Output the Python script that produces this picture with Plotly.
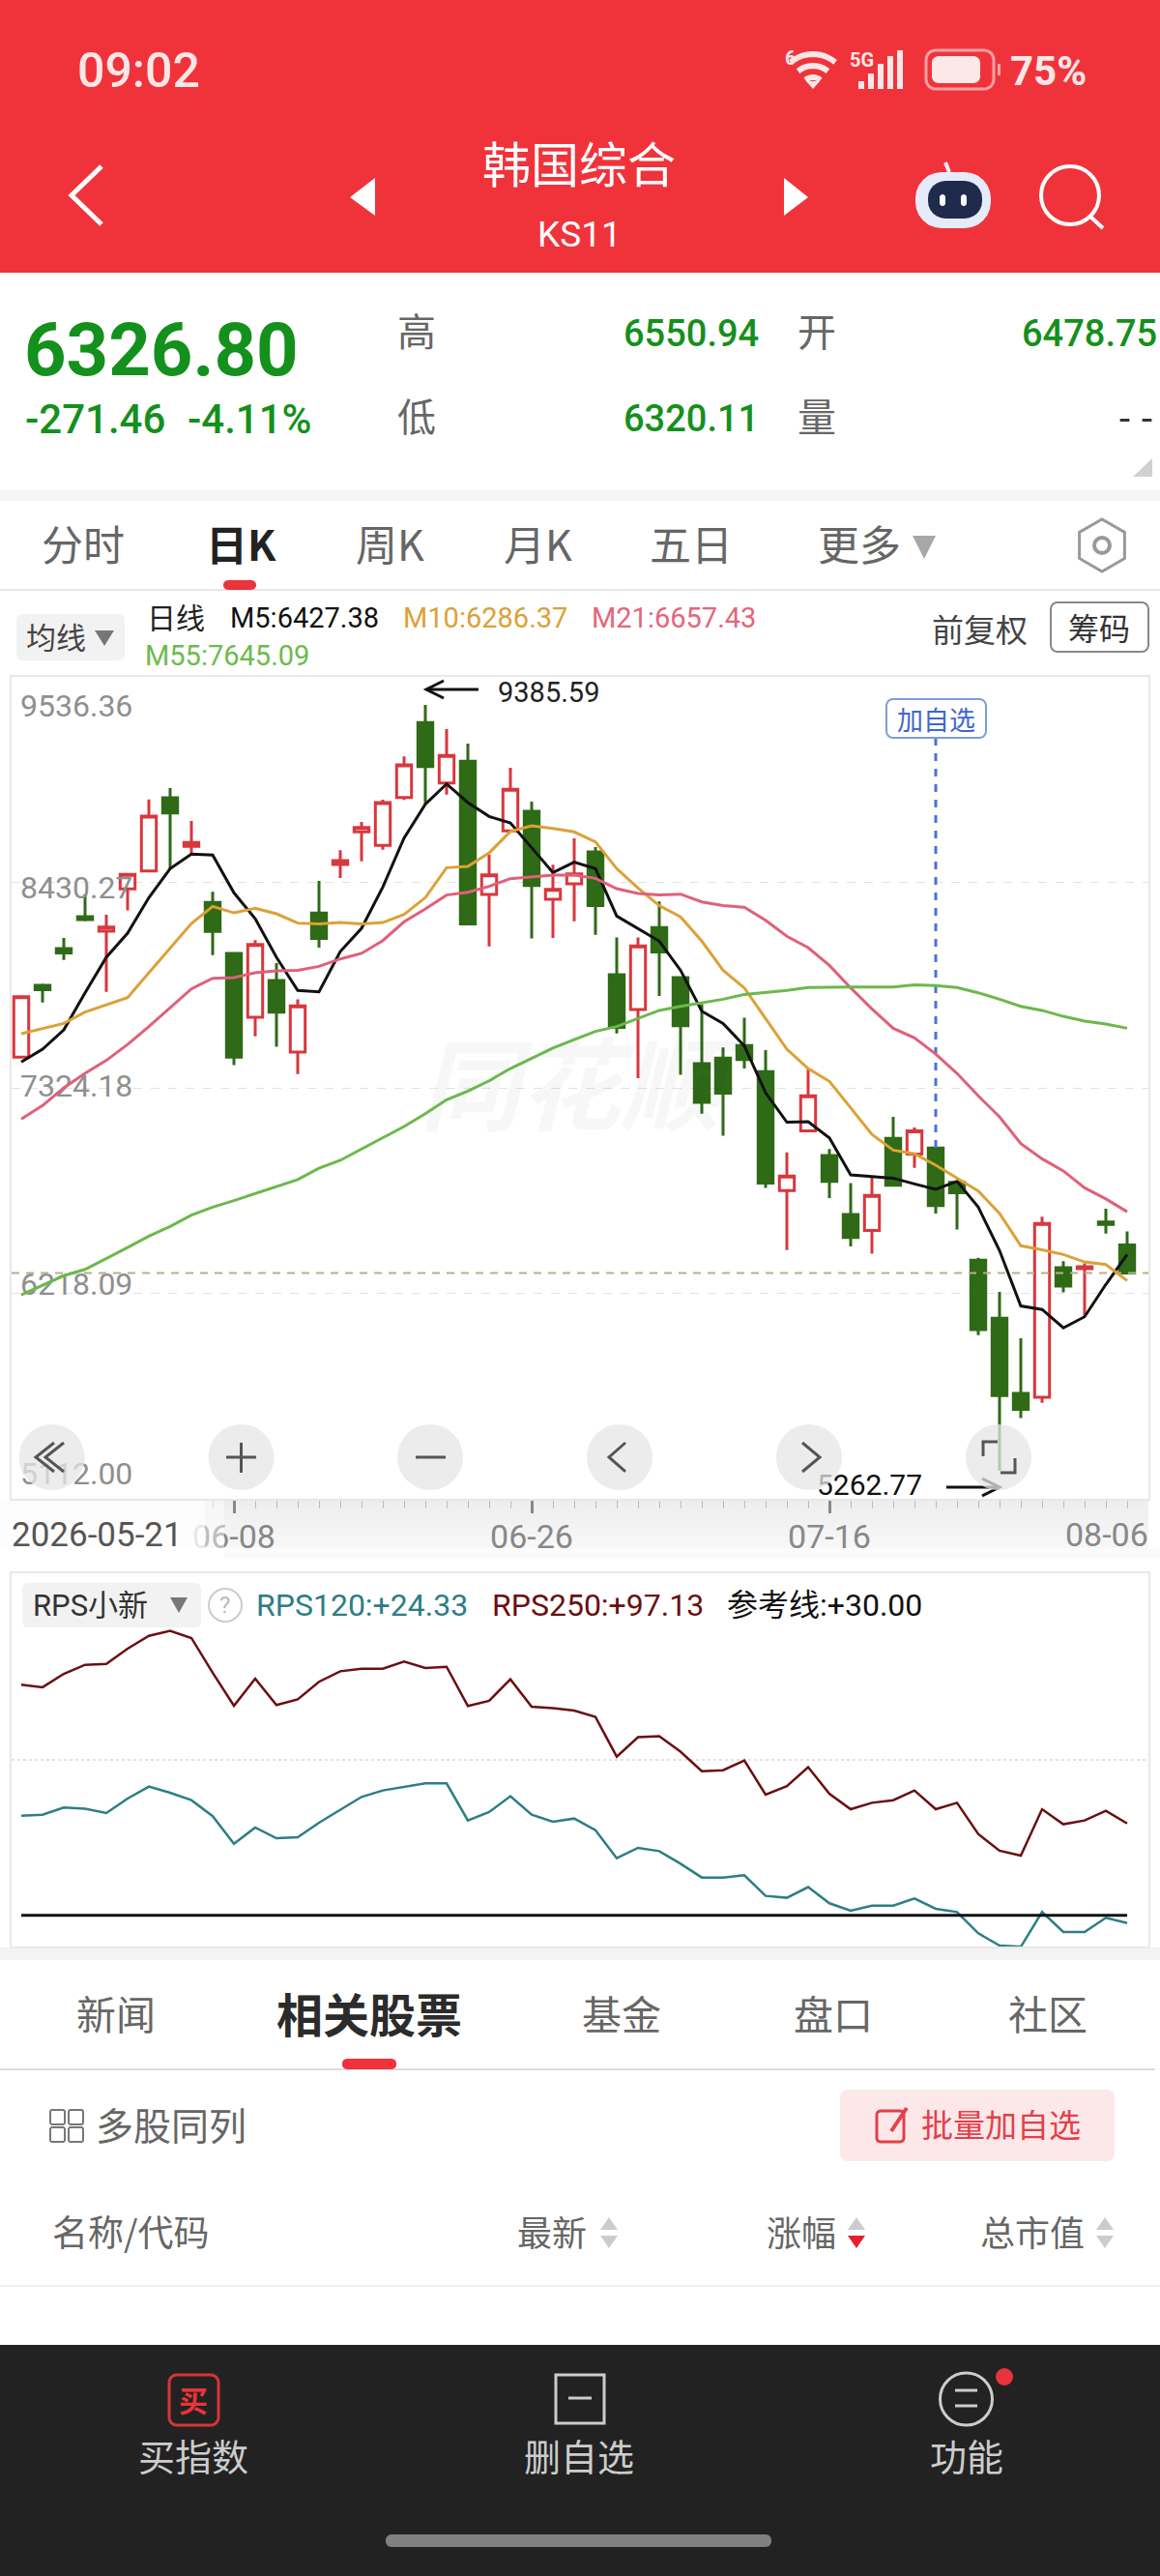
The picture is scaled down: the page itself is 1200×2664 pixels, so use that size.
import math
import plotly.graph_objects as go

W = 1200
H = 2664
LATIN = "Roboto, Noto Sans CJK SC"
CJK = "Noto Sans CJK SC, Roboto"

# =============================================================================
# Data
# =============================================================================
dates = ["05-21", "05-22", "05-26", "05-27", "05-28", "05-29", "06-01", "06-02", "06-04", "06-05",
         "06-08", "06-09", "06-10", "06-11", "06-12", "06-15", "06-16", "06-17", "06-18", "06-19",
         "06-22", "06-23", "06-24", "06-25", "06-26", "06-29", "06-30", "07-01", "07-02", "07-03",
         "07-06", "07-07", "07-08", "07-09", "07-10", "07-13", "07-14", "07-15", "07-16", "07-20",
         "07-21", "07-22", "07-23", "07-24", "07-27", "07-28", "07-29", "07-30", "07-31", "08-03",
         "08-04", "08-05", "08-06"]
opens = [7489, 7876, 8074, 8245, 8167, 8395, 8492, 8886, 8624, 8322, 8048, 7704, 7902, 7517, 8265, 8527, 8702, 8629,
         8887, 9290, 8965, 9082, 8365, 8707, 8813, 8339, 8422, 8594, 7933, 7746, 8187, 7918, 7454, 7484, 7552, 7411,
         6771, 7092, 6960, 6642, 6556, 7052, 6967, 7000, 6816, 6396, 6084, 5679, 5659, 6356, 6351, 6602, 6478.75]
highs = [7815, 7885, 8131, 8365, 8256, 8473, 8877, 8938, 8761, 8379, 8048, 8119, 7996, 7801, 8438, 8603, 8756, 8875,
         9108, 9385.59, 9255, 9177, 8579, 9047, 8865, 8525, 8667, 8620, 8134, 8134, 8327, 7918, 7775, 7541, 7702, 7527,
         6977, 7423, 6995, 6812, 6844, 7168, 7111, 7000, 6816, 6410, 6226, 5976, 6630, 6391, 6379, 6674, 6550.94]
lows = [7489, 7784, 8013, 8221, 7841, 8279, 8492, 8504, 8582, 8039, 7446, 7602, 7545, 7399, 8079, 8454, 8544, 8606,
        8874, 8851, 8903, 8206, 8086, 8707, 8128, 8131, 8221, 8148, 7617, 7376, 7819, 7394, 7185, 7067, 7428, 6786,
        6451, 7092, 6731, 6471, 6431, 6792, 6894, 6648, 6561, 5993, 5262.77, 5546, 5629, 6223, 6092, 6540, 6320.11]
closes = [7815, 7853, 8050, 8230, 8190, 8473, 8787, 8804, 8645, 8166, 7489, 8096, 7732, 7765, 8128, 8547, 8726, 8860,
          9063, 9054, 9113, 8206, 8471, 8931, 8414, 8393, 8476, 8305, 7650, 8088, 8055, 7659, 7246, 7295, 7477, 6812,
          6849, 7281, 6821, 6519, 6745, 6800, 7092, 6691, 6759, 6023, 5667, 5593, 6594, 6257, 6361, 6589, 6326.80]

ma5 = [7463, 7532, 7636, 7836, 8027, 8157, 8348, 8504, 8582, 8577, 8374, 8235, 8027, 7848, 7841, 8058, 8183, 8405,
       8669, 8851, 8960, 8860, 8785, 8750, 8617, 8483, 8539, 8504, 8249, 8183, 8114, 7957, 7737, 7671, 7550, 7298,
       7139, 7142, 7055, 6856, 6847, 6838, 6807, 6778, 6821, 6682, 6448, 6150, 6131, 6032, 6092, 6266, 6427.38]
ma10 = [7616, 7645, 7671, 7732, 7770, 7810, 7944, 8076, 8209, 8301, 8266, 8291, 8261, 8211, 8207, 8214, 8206, 8214,
        8258, 8348, 8509, 8516, 8589, 8704, 8735, 8721, 8702, 8648, 8504, 8400, 8305, 8244, 8114, 7957, 7862, 7697,
        7532, 7428, 7359, 7217, 7073, 6989, 6969, 6908, 6838, 6769, 6648, 6474, 6452, 6427, 6387, 6373, 6286.37]
ma21 = [7156, 7229, 7324, 7402, 7472, 7558, 7654, 7758, 7857, 7914, 7918, 7944, 7954, 7957, 7978, 8018, 8048, 8117,
        8218, 8287, 8362, 8377, 8409, 8450, 8461, 8469, 8469, 8452, 8396, 8370, 8362, 8367, 8325, 8305, 8296, 8226,
        8140, 8079, 7983, 7862, 7749, 7645, 7593, 7506, 7402, 7281, 7168, 7024, 6942, 6877, 6786, 6726, 6657.43]
ma55 = [6210, 6261, 6313, 6347, 6405, 6465, 6526, 6578, 6639, 6682, 6717, 6755, 6792, 6830, 6891, 6934, 6995, 7055,
        7116, 7185, 7260, 7307, 7362, 7428, 7484, 7538, 7584, 7628, 7654, 7697, 7741, 7763, 7781, 7801, 7827, 7836,
        7848, 7864, 7867, 7867, 7867, 7867, 7878, 7874, 7864, 7836, 7801, 7763, 7741, 7709, 7683, 7668, 7645.09]

rps120 = [102.8, 103.5, 108.7, 107.8, 104.7, 115.3, 124.0, 119.5, 114.1, 102.4, 82.3, 94.1, 86.3, 87.0, 97.6, 107.1,
          116.5, 121.2, 123.6, 126.4, 126.4, 99.3, 105.4, 117.0, 103.5, 98.4, 100.7, 92.2, 71.7, 79.3, 76.9, 67.7,
          57.6, 57.6, 59.3, 44.2, 42.8, 50.6, 38.8, 33.4, 37.1, 37.1, 42.3, 34.8, 32.4, 16.9, 7.9, 7.0, 32.4, 17.8,
          17.8, 28.2, 24.33]
rps250 = [198.4, 196.6, 206.4, 213.0, 213.7, 224.8, 234.2, 237.8, 232.6, 207.2, 183.1, 202.9, 183.6, 187.8, 200.6,
          208.3, 210.2, 210.2, 215.4, 210.7, 211.6, 182.9, 186.7, 202.4, 182.4, 181.3, 179.6, 174.9, 145.9, 160.1,
          160.8, 149.5, 135.3, 136.0, 143.1, 118.1, 124.3, 138.2, 118.8, 107.5, 112.2, 114.1, 121.2, 107.5, 112.2,
          89.4, 77.2, 73.6, 107.5, 96.5, 99.3, 106.4, 97.13]
ref_line = [30.0] * 53

y_ticks = [9536.36, 8430.27, 7324.18, 6218.09, 5112.00]
y_tick_text = ["9536.36", "8430.27", "7324.18", "6218.09", "5112.00"]
x_major = [10, 24, 38, 52]
x_minor = list(range(9, 53))

idx = list(range(len(dates)))

# plot rectangles, in page pixels
MAIN_L, MAIN_R, MAIN_T, MAIN_B = 12, 1188, 700, 1550
SUB_T, SUB_B = 1627, 2013
Y_MIN, Y_MAX = 5112.00, 9536.36
X_MIN, X_MAX = -0.4545, 53.0

RED = "#d8373e"
GREEN = "#2f6a17"
GREEN_TXT = "#14901c"


def val_at(y_px):
    # value of the main price axis at a page height, for the labels drawn as text
    return Y_MAX - (y_px - MAIN_T) * (Y_MAX - Y_MIN) / (MAIN_B - MAIN_T)


def idx_at(x_px):
    return (x_px - 22) / 22


# =============================================================================
# Helpers for the app chrome around the chart
# =============================================================================
shapes = []
annots = []


def fx(x):
    return x / W


def fy(y):
    return 1 - y / H


def poly(pts, close=False, fill=None, color=None, width=0, layer="above", opacity=1):
    d = "M " + " L ".join(f"{fx(x):.5f},{fy(y):.5f}" for x, y in pts)
    if close:
        d += " Z"
    shapes.append(dict(type="path", xref="paper", yref="paper", path=d,
                       fillcolor=fill if fill else "rgba(0,0,0,0)",
                       line=dict(color=color if color else "rgba(0,0,0,0)", width=width),
                       layer=layer, opacity=opacity))


def rect(x0, y0, x1, y1, fill, layer="below", opacity=1):
    shapes.append(dict(type="rect", xref="paper", yref="paper", x0=fx(x0), x1=fx(x1), y0=fy(y1), y1=fy(y0),
                       fillcolor=fill, line=dict(width=0), layer=layer, opacity=opacity))


def rrect(x0, y0, x1, y1, r, fill=None, color=None, width=0, layer="above"):
    pts = []
    corners = [(x1 - r, y0 + r, -90), (x1 - r, y1 - r, 0), (x0 + r, y1 - r, 90), (x0 + r, y0 + r, 180)]
    for cx, cy, start in corners:
        for k in range(7):
            a = math.radians(start + k * 15)
            pts.append((cx + r * math.cos(a), cy + r * math.sin(a)))
    poly(pts, close=True, fill=fill, color=color, width=width, layer=layer)


def circle(cx, cy, r, fill=None, color=None, width=0, layer="above"):
    shapes.append(dict(type="circle", xref="paper", yref="paper", x0=fx(cx - r), x1=fx(cx + r),
                       y0=fy(cy + r), y1=fy(cy - r), fillcolor=fill if fill else "rgba(0,0,0,0)",
                       line=dict(color=color if color else "rgba(0,0,0,0)", width=width), layer=layer))


def arc(cx, cy, r, a0, a1, color, width):
    pts = []
    for k in range(13):
        a = math.radians(a0 + (a1 - a0) * k / 12)
        pts.append((cx + r * math.cos(a), cy + r * math.sin(a)))
    poly(pts, color=color, width=width)


def text(x, y, s, size, color, anchor="left", font=LATIN, bold=False, weight=None):
    # CJK glyphs sit a little low in their line box
    if font == CJK:
        y -= 0.07 * size
    fnt = dict(family=font, size=size, color=color)
    if weight:
        fnt["weight"] = weight
    annots.append(dict(xref="paper", yref="paper", x=fx(x), y=fy(y), text=f"<b>{s}</b>" if bold else s,
                       showarrow=False, xanchor=anchor, yanchor="middle", borderpad=0, borderwidth=0, font=fnt))


# =============================================================================
# Chrome: header, quote block, tabs
# =============================================================================
rect(0, 0, W, 282, "#f0333b")
text(80, 73, "09:02", 50, "#fbe6e6", font=LATIN, weight=500)
text(599, 171, "韩国综合", 50, "white", "center", CJK)
text(599, 242, "KS11", 37, "white", "center")
text(1045, 73, "75%", 42, "#fbe6e6", font=LATIN, bold=True)

# status icons
text(812, 60, "6", 20, "#fbe6e6", bold=True)
for r_, w_ in [(36, 6), (24, 6), (12, 6)]:
    arc(841, 92, r_, -130, -50, "#fbe6e6", w_)
poly([(834, 84), (848, 84), (841, 92)], close=True, fill="#fbe6e6")
text(879, 62, "5G", 20, "#fbe6e6", bold=True)
for x_, top in [(888, 84), (898, 76), (908, 66), (918, 58), (928, 52)]:
    rect(x_, top, x_ + 6, 92, "#fbe6e6", "above")
rrect(958, 52, 1028, 92, 10, color="#f9a0a3", width=3)
rrect(964, 58, 1014, 86, 7, fill="#fde8e8")
rect(1032, 66, 1035, 78, "#f9a0a3", "above")

poly([(105, 172), (74, 202), (105, 232)], color="white", width=5)
poly([(388, 184), (362, 204), (388, 223)], close=True, fill="white")
poly([(811, 184), (836, 204), (811, 223)], close=True, fill="white")
rrect(947, 178, 1025, 236, 27, fill="#e6ebfa")
rrect(960, 187, 1016, 226, 18, fill="#1f2a4d")
rrect(972, 201, 978, 213, 3, fill="white")
rrect(994, 201, 1000, 213, 3, fill="white")
poly([(978, 168), (982, 178)], color="#e6ebfa", width=4)
circle(1107, 202, 30, color="white", width=4)
poly([(1128, 224), (1141, 236)], color="white", width=4)

text(25, 362, "6326.80", 76, GREEN_TXT, bold=True)
text(26, 434, "-271.46", 42, GREEN_TXT, weight=500)
text(194, 434, "-4.11%", 42, GREEN_TXT, weight=500)
text(431, 344, "高", 40, "#666666", "center", CJK)
text(431, 432, "低", 40, "#666666", "center", CJK)
text(645, 345, "6550.94", 38, GREEN_TXT, weight=500)
text(645, 433, "6320.11", 38, GREEN_TXT, weight=500)
text(845, 344, "开", 40, "#666666", "center", CJK)
text(845, 432, "量", 40, "#666666", "center", CJK)
text(1197, 345, "6478.75", 38, GREEN_TXT, "right", weight=500)
text(1198, 432, "--", 38, "#333333", "right", font="DejaVu Sans Mono")
poly([(1192, 474), (1192, 493), (1172, 493)], close=True, fill="#d0d0d0")
rect(0, 507, W, 518, "#f5f5f5")

for tab_x, tab_s in [(86, "分时"), (403, "周K"), (556, "月K"), (715, "五日"), (889, "更多")]:
    text(tab_x, 564, tab_s, 43, "#666666", "center", CJK)
text(249, 564, "日K", 43, "#222222", "center", CJK, bold=True)
poly([(944, 554), (968, 554), (956, 578)], close=True, fill="#a8a8a8")
hex_pts = [(1140 + 27 * math.cos(math.radians(a)), 564 + 27 * math.sin(math.radians(a))) for a in range(30, 390, 60)]
poly(hex_pts, close=True, color="#999999", width=3)
circle(1140, 564, 8, color="#999999", width=4)
rect(0, 609, W, 611, "#e8e8e8")
rrect(231, 600, 265, 610, 5, fill="#e8343b")

# chart legend row
rrect(17, 635, 129, 683, 6, fill="#f2f2f2")
text(58, 660, "均线", 31, "#444444", "center", CJK)
poly([(98, 652), (118, 652), (108, 668)], close=True, fill="#777777")
text(152, 639, "日线", 30, "#222222", font=CJK)
text(238, 639, "M5:6427.38", 29, "#111111")
text(417, 639, "M10:6286.37", 29, "#dca136")
text(612, 639, "M21:6657.43", 29, "#e6657b")
text(150, 678, "M55:7645.09", 29, "#6cbb4d")
text(1013, 652, "前复权", 33, "#444444", "center", CJK)
rrect(1087, 623, 1188, 674, 7, color="#888888", width=2)
text(1137, 650, "筹码", 32, "#333333", "center", CJK)

# band under the main x axis, fading out to the left under the first date
for k in range(10):
    g = 238 + k
    rect(192, 1551 + k * 5, MAIN_R, 1556 + k * 5, f"rgb({g},{g},{g})")
    g2 = g + (255 - g) * 0.8
    rect(0, 1551 + k * 5, 192, 1556 + k * 5, f"rgb({g2:.0f},{g2:.0f},{g2:.0f})")
rect(232, 1601, W, 1612, "#fbfbfb")
rect(192, 1552, 212, 1601, "white", "above", 0.8)
rect(212, 1552, 232, 1601, "white", "above", 0.45)
text(12, 1587, "2026-05-21", 35, "#555555")
text(1188, 1587, "08-06", 34, "#888888", "right")

# signal label on the chart
rrect(917, 723, 1020, 763, 7, fill="white", color="#7f9bdc", width=2)
text(968, 745, "加自选", 27, "#3f68c8", "center", CJK)

# high / low pointers
poly([(495, 713), (441, 713)], color="#111111", width=3)
poly([(459, 704), (441, 713), (459, 722)], color="#111111", width=3)
poly([(979, 1538), (1034, 1538)], color="#111111", width=3)
poly([(1016, 1529), (1034, 1538), (1016, 1547)], color="#111111", width=3)

# round buttons over the chart
BTN = "rgba(230,230,230,0.75)"
for bx in [53.6, 249.5, 445, 641, 837, 1033]:
    circle(bx, 1507, 34, fill=BTN)
ICON = "#555555"
poly([(66, 1492), (47, 1507), (66, 1522)], color=ICON, width=3)
poly([(56, 1492), (37, 1507), (56, 1522)], color=ICON, width=3)
poly([(234, 1507), (265, 1507)], color=ICON, width=3)
poly([(249.5, 1492), (249.5, 1523)], color=ICON, width=3)
poly([(430, 1507), (461, 1507)], color=ICON, width=3)
poly([(647, 1492), (630, 1507), (647, 1522)], color=ICON, width=3)
poly([(830, 1492), (848, 1507), (830, 1522)], color=ICON, width=3)
poly([(1017, 1506), (1017, 1491), (1032, 1491)], color=ICON, width=3)
poly([(1050, 1508), (1050, 1523), (1035, 1523)], color=ICON, width=3)

# sub chart legend row
rrect(23, 1637, 208, 1683, 6, fill="#f2f2f2")
text(34, 1660, "RPS小新", 31, "#333333")
poly([(176, 1652), (194, 1652), (185, 1668)], close=True, fill="#777777")
circle(233, 1660, 17, color="#cccccc", width=2)
text(233, 1660, "?", 24, "#bbbbbb", "center")
text(265, 1660, "RPS120:+24.33", 32, "#2e7d86")
text(509, 1660, "RPS250:+97.13", 32, "#6b0f12")
text(752, 1660, "参考线:+30.00", 32, "#111111")
rect(0, 2014, W, 2027, "#f3f3f3")

# bottom tabs
for tab_x, tab_s in [(120, "新闻"), (643, "基金"), (862, "盘口"), (1084, "社区")]:
    text(tab_x, 2084, tab_s, 41, "#666666", "center", CJK)
text(382, 2084, "相关股票", 48, "#2b2b2b", "center", CJK, bold=True)
rect(0, 2139, 1195, 2141, "#dddddd")
rrect(354, 2129, 410, 2140, 5, fill="#f0333b")
for gx, gy in [(52, 2182), (71, 2182), (52, 2200), (71, 2200)]:
    rrect(gx, gy, gx + 15, gy + 15, 2, color="#777777", width=2)
text(99, 2199, "多股同列", 39, "#666666", font=CJK)
rrect(869, 2161, 1153, 2235, 8, fill="#fde8e9")
rrect(907, 2183, 935, 2215, 4, color="#e2404a", width=3)
poly([(922, 2204), (938, 2180)], color="#e2404a", width=4)
text(953, 2198, "批量加自选", 33, "#e2404a", font=CJK)
text(54, 2310, "名称/代码", 37, "#666666", font=CJK)
text(571, 2310, "最新", 36, "#666666", "center", CJK)
text(829, 2310, "涨幅", 36, "#666666", "center", CJK)
text(1068, 2310, "总市值", 36, "#666666", "center", CJK)
for ax_, down_color in [(630, "#cccccc"), (886, "#e8202a"), (1143, "#cccccc")]:
    poly([(ax_ - 9, 2306), (ax_ + 9, 2306), (ax_, 2293)], close=True, fill="#cccccc")
    poly([(ax_ - 9, 2312), (ax_ + 9, 2312), (ax_, 2325)], close=True, fill=down_color)
rect(0, 2363, W, 2365, "#eeeeee")

# footer
rect(0, 2425, W, H, "#222222")
rrect(175, 2456, 226, 2508, 8, color="#d6333a", width=3)
text(200, 2483, "买", 30, "#e8343b", "center", CJK, bold=True)
text(200, 2541, "买指数", 38, "#cccccc", "center", CJK)
poly([(575, 2456), (625, 2456), (625, 2506), (575, 2506)], close=True, color="#cccccc", width=3)
poly([(588, 2480), (612, 2480)], color="#cccccc", width=3)
text(599, 2541, "删自选", 38, "#cccccc", "center", CJK)
circle(999.5, 2481, 27, color="#cccccc", width=3)
poly([(988, 2472), (1011, 2472)], color="#cccccc", width=3)
poly([(988, 2488), (1011, 2488)], color="#cccccc", width=3)
circle(1039, 2458, 9, fill="#e8343b")
text(999.5, 2541, "功能", 38, "#cccccc", "center", CJK)
rrect(399, 2621, 798, 2634, 6, fill="#808080")

# =============================================================================
# Chart
# =============================================================================
fig = go.Figure()

# scatter traces draw above the candle layer, so the watermark has to be see-through
fig.add_trace(go.Scatter(
    x=[idx_at(590)], y=[val_at(1135)], mode="text", text=["同花顺"], textposition="middle center",
    textfont=dict(family=CJK, size=104, color="rgba(0,0,0,0.03)", style="italic", weight="bold"),
    showlegend=False, hoverinfo="skip"))
fig.add_trace(go.Scatter(
    x=[idx_at(21)] * 5, y=[val_at(y_) for y_ in [733, 921, 1126, 1331, 1527]], mode="text",
    text=y_tick_text, textposition="middle right",
    textfont=dict(family=LATIN, size=32, color="#8f8f8f"),
    showlegend=False, hoverinfo="skip"))
fig.add_trace(go.Scatter(
    x=[idx_at(515)], y=[val_at(719)], mode="text", text=["9385.59"], textposition="middle right",
    textfont=dict(family=LATIN, size=29, color="#222222"), showlegend=False, hoverinfo="skip"))
fig.add_trace(go.Scatter(
    x=[idx_at(845)], y=[val_at(1538)], mode="text", text=["5262.77"], textposition="middle right",
    textfont=dict(family=LATIN, size=30, color="#111111"), showlegend=False, hoverinfo="skip"))

# dashed signal line of 加自选
fig.add_trace(go.Scatter(
    x=[idx[43], idx[43]], y=[val_at(763), opens[43]], mode="lines",
    line=dict(color="#4a72d8", width=3, dash="8px,8px"), showlegend=False, hoverinfo="skip"))

# last price line
fig.add_trace(go.Scatter(
    x=[X_MIN, X_MAX], y=[closes[-1], closes[-1]], mode="lines",
    line=dict(color="#b5b08a", width=2, dash="8px,7px"), showlegend=False, hoverinfo="skip"))

fig.add_trace(go.Candlestick(
    x=idx, open=opens, high=highs, low=lows, close=closes, showlegend=False,
    increasing=dict(line=dict(color=RED, width=3), fillcolor="white"),
    decreasing=dict(line=dict(color=GREEN, width=3), fillcolor=GREEN)))

for serie, cor in [(ma5, "#111111"), (ma10, "#dca136"), (ma21, "#e0607a"), (ma55, "#6cb84c")]:
    fig.add_trace(go.Scatter(x=idx, y=serie, mode="lines", line=dict(color=cor, width=3),
                             showlegend=False, hoverinfo="skip"))

fig.add_trace(go.Scatter(x=idx, y=rps250, mode="lines", line=dict(color="#6b0f12", width=2.5),
                         xaxis="x2", yaxis="y2", showlegend=False))
fig.add_trace(go.Scatter(x=idx, y=rps120, mode="lines", line=dict(color="#2e7d86", width=2.5),
                         xaxis="x2", yaxis="y2", showlegend=False, cliponaxis=False))
fig.add_trace(go.Scatter(x=idx, y=ref_line, mode="lines", line=dict(color="#111111", width=3),
                         xaxis="x2", yaxis="y2", showlegend=False))

FRAME = "#e8e8e8"
fig.update_layout(
    width=W, height=H, margin=dict(l=0, r=0, t=0, b=0),
    paper_bgcolor="white", plot_bgcolor="rgba(0,0,0,0)",
    font=dict(family=LATIN), hovermode=False,
    boxgap=0.3, boxgroupgap=0,
    shapes=shapes, annotations=annots,
    xaxis=dict(
        domain=[fx(MAIN_L), fx(MAIN_R)], range=[X_MIN, X_MAX], anchor="y",
        rangeslider=dict(visible=False), showgrid=False, zeroline=False,
        showline=True, mirror=True, linecolor=FRAME, linewidth=2,
        tickmode="array", tickvals=x_major,
        ticktext=[dates[10], dates[24], dates[38], ""],
        ticks="outside", ticklen=13, tickwidth=3, tickcolor="#888888",
        ticklabelstandoff=-5,
        tickfont=dict(family=LATIN, size=34, color="#888888"),
        minor=dict(tickmode="array", tickvals=x_minor, ticks="outside", ticklen=8, tickwidth=1,
                   tickcolor="#bbbbbb", showgrid=False)),
    yaxis=dict(
        domain=[fy(MAIN_B), fy(MAIN_T)], range=[Y_MIN, Y_MAX], anchor="x",
        showline=True, mirror=True, linecolor=FRAME, linewidth=2, zeroline=False,
        tickmode="array", tickvals=y_ticks, showticklabels=False, ticks="",
        showgrid=True, gridcolor="#e2e2e2", griddash="dash", gridwidth=1),
    xaxis2=dict(
        domain=[fx(MAIN_L), fx(MAIN_R)], range=[X_MIN, X_MAX], anchor="y2",
        showgrid=False, zeroline=False, showline=True, mirror=True, linecolor=FRAME, linewidth=2,
        showticklabels=False, ticks=""),
    yaxis2=dict(
        domain=[fy(SUB_B), fy(SUB_T)], range=[7.2, 279.9], anchor="x2",
        showline=True, mirror=True, linecolor=FRAME, linewidth=2, zeroline=False,
        tickmode="array", tickvals=[143.5], showticklabels=False, ticks="",
        showgrid=True, gridcolor="#e2e2e2", griddash="dot", gridwidth=2),
)

fig.write_html("out.html", config=dict(displayModeBar=False), post_script="document.body.style.margin='0';")
